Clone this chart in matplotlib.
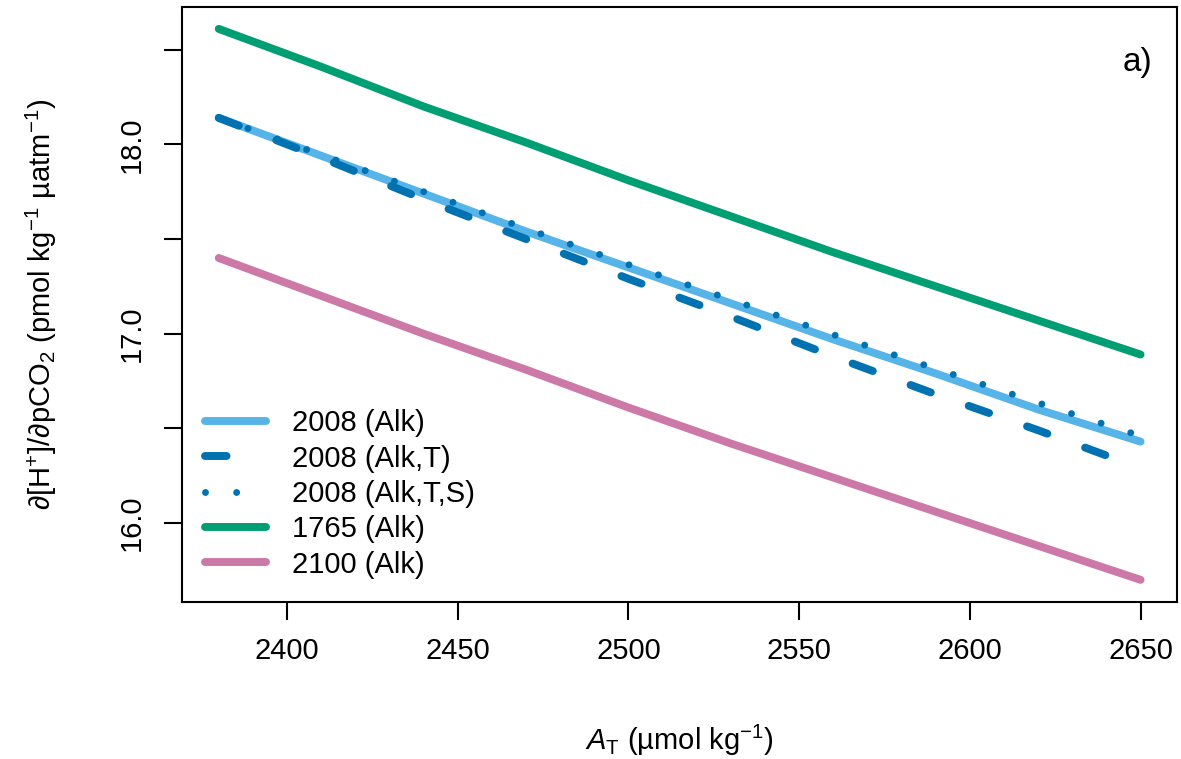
import numpy as np
import matplotlib
matplotlib.use("Agg")
import matplotlib.pyplot as plt

# ------------------------------------------------------------
# DATA
# ------------------------------------------------------------
alk = [2380, 2410, 2440, 2470, 2500, 2530, 2560, 2590, 2620, 2650]

y2008_alk     = [18.14, 17.94, 17.74, 17.54, 17.35, 17.16, 16.97, 16.79, 16.60, 16.43]
y2008_alk_t   = [18.14, 17.93, 17.71, 17.50, 17.29, 17.09, 16.88, 16.68, 16.49, 16.29]
y2008_alk_t_s = [18.14, 17.945, 17.75, 17.555, 17.365, 17.18, 16.995, 16.815, 16.635, 16.46]
y1765_alk     = [18.61, 18.41, 18.20, 18.01, 17.81, 17.62, 17.43, 17.25, 17.07, 16.89]
y2100_alk     = [17.40, 17.20, 17.00, 16.81, 16.61, 16.42, 16.24, 16.06, 15.88, 15.70]

labels = ["2008 (Alk)", "2008 (Alk,T)", "2008 (Alk,T,S)", "1765 (Alk)", "2100 (Alk)"]

xticks = [2400, 2450, 2500, 2550, 2600, 2650]
yticks = [16.0, 16.5, 17.0, 17.5, 18.0, 18.5]
ytick_labels = ["16.0", "", "17.0", "", "18.0", ""]

# ------------------------------------------------------------
# STYLE
# ------------------------------------------------------------
plt.rcParams['font.family'] = ['Liberation Sans', 'DejaVu Sans']
plt.rcParams['mathtext.fontset'] = 'custom'
plt.rcParams['mathtext.rm'] = 'Liberation Sans'
plt.rcParams['mathtext.it'] = 'Liberation Sans:italic'
plt.rcParams['mathtext.sf'] = 'Liberation Sans'
plt.rcParams['lines.scale_dashes'] = False

fs = 21

fig = plt.figure(figsize=(11.81, 7.59), dpi=100)
ax = fig.add_axes([0.154, 0.207, 0.843, 0.784])

lw = 5.7
ax.plot(alk, y2008_alk, color='#56B4E9', lw=lw, solid_capstyle='round',
        solid_joinstyle='round', label=labels[0])
ax.plot(alk, y2008_alk_t, color='#0072B2', lw=lw, dashes=(15.5, 29),
        dash_capstyle='round', label=labels[1])
ax.plot(alk, y2008_alk_t_s, color='#0072B2', lw=5, dashes=(0.01, 22.4),
        dash_capstyle='round', label=labels[2])
ax.plot(alk, y1765_alk, color='#009E73', lw=lw, solid_capstyle='round',
        solid_joinstyle='round', label=labels[3])
ax.plot(alk, y2100_alk, color='#CC79A7', lw=lw, solid_capstyle='round',
        solid_joinstyle='round', label=labels[4])

# R-style 4% padding
xr = max(alk) - min(alk)
ax.set_xlim(min(alk) - 0.04 * xr, max(alk) + 0.04 * xr)
all_y = np.concatenate([y2008_alk, y2008_alk_t, y2008_alk_t_s, y1765_alk, y2100_alk])
yr = all_y.max() - all_y.min()
ax.set_ylim(all_y.min() - 0.04 * yr, all_y.max() + 0.04 * yr)

ax.set_xticks(xticks)
ax.set_xticklabels([str(t) for t in xticks], fontsize=fs)
ax.set_yticks(yticks)
ax.set_yticklabels(ytick_labels, fontsize=fs, rotation=90, va='center')
ax.tick_params(direction='out', length=13, width=1.5, pad=12)
ax.tick_params(axis='y', pad=13)
for sp in ax.spines.values():
    sp.set_linewidth(1.5)

ax.set_xlabel(r'$A_{\mathrm{T}}$ (µmol kg$^{-1}$)', fontsize=fs, va='center')
ax.xaxis.set_label_coords(0.5, -0.232)
ax.set_ylabel('∂[H$^{+}$]/∂pCO$_{2}$ (pmol kg$^{-1}$ µatm$^{-1}$)', fontsize=fs,
              va='center')
ax.yaxis.set_label_coords(-0.1406, 0.5)

ax.text(0.960, 0.906, 'a)', transform=ax.transAxes, fontsize=24,
        ha='center', va='center')

ax.legend(loc='lower left', bbox_to_anchor=(0.0, 0.0), frameon=False, fontsize=fs,
          handlelength=2.1, handletextpad=0.87, labelspacing=0.25,
          borderaxespad=0.4)

fig.savefig('out.png', dpi=100)
